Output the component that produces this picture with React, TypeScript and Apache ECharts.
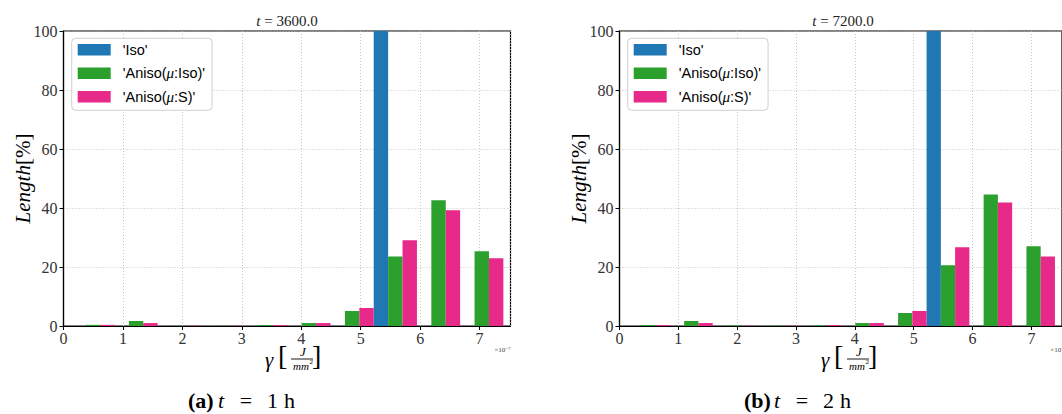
import React, { useEffect, useRef } from "react";
import * as echarts from "echarts";

// ---- data (x in units of 1e-7 J/mm^2, y in %) ----
const binEdges = [0.13, 0.857, 1.584, 2.311, 3.038, 3.765, 4.492, 5.219, 5.946, 6.673, 7.4];
const seriesNames = ["'Iso'", "'Aniso(μ:Iso)'", "'Aniso(μ:S)'"];
const isoA = [0, 0, 0, 0, 0, 0, 0, 100, 0, 0];
const anisoIsoA = [0.4, 1.7, 0.1, 0.1, 0.3, 1.0, 5.1, 23.6, 42.6, 25.3];
const anisoSA = [0.4, 1.0, 0.1, 0.1, 0.3, 1.0, 6.1, 29.1, 39.2, 23.0];
const isoB = [0, 0, 0, 0, 0, 0, 0, 100, 0, 0];
const anisoIsoB = [0.3, 1.7, 0.2, 0.1, 0.2, 1.0, 4.4, 20.6, 44.6, 27.0];
const anisoSB = [0.3, 1.0, 0.1, 0.1, 0.3, 1.0, 5.1, 26.7, 41.9, 23.6];
const panelTitles = ["3600.0", "7200.0"];
const captionTags = ["(a)", "(b)"];
const captionHours = ["1", "2"];
const xTicks = [0, 1, 2, 3, 4, 5, 6, 7];
const yTicks = [0, 20, 40, 60, 80, 100];

const colors = ["#1f77b4", "#2ca02c", "#e7298a"];
const SERIF = "'Liberation Serif', 'DejaVu Serif', serif";
const SANS = "'Liberation Sans', Arial, sans-serif";

const GRID_LEFT = [63.5, 619.5];
const GRID_TOP = 31;
const GRID_W = 447;
const GRID_H = 295;

function buildData(values: number[], k: number) {
  return values.map((v, i) => {
    const w = (binEdges[i + 1] - binEdges[i]) / 3;
    const x0 = binEdges[i] + k * w;
    return [x0, x0 + w, v];
  });
}

function renderBar(params: any, api: any) {
  const x0 = api.value(0);
  const x1 = api.value(1);
  const v = api.value(2);
  const p0 = api.coord([x0, v]);
  const p1 = api.coord([x1, 0]);
  return {
    type: "rect",
    shape: { x: p0[0], y: p0[1], width: p1[0] - p0[0], height: p1[1] - p0[1] },
    style: { fill: api.visual("color") },
  };
}

function txt(x: number, y: number, text: string, size: number, opts: any = {}) {
  return {
    type: "text",
    x,
    y,
    silent: true,
    style: {
      text,
      fontSize: size,
      fontFamily: SERIF,
      fill: "#000",
      align: "left",
      verticalAlign: "middle",
      ...opts,
    },
  };
}

function xLabelGraphics(L: number) {
  return [
    txt(L - 25, 360, "γ", 21, { fontStyle: "italic" }),
    txt(L - 12, 355, "[", 28),
    txt(L + 13, 351.5, "J", 13, { fontStyle: "italic", align: "center" }),
    {
      type: "line",
      silent: true,
      shape: { x1: L + 1, y1: 359, x2: L + 23, y2: 359 },
      style: { stroke: "#000", lineWidth: 0.9 },
    },
    txt(L + 11, 365.5, "mm", 11, { fontStyle: "italic", align: "center" }),
    txt(L + 19.5, 361.5, "2", 7),
    txt(L + 22, 355, "]", 28),
  ];
}

function captionGraphics(base: number, gi: number) {
  return [
    txt(base, 400, captionTags[gi], 22, { fontWeight: "bold" }),
    txt(base + 30, 400, "t", 22, { fontStyle: "italic" }),
    txt(base + 58, 400, "=", 22, { align: "center" }),
    txt(base + 79, 400, captionHours[gi], 22),
    txt(base + 96, 400, "h", 22),
  ];
}

export default function App() {
  const ref = useRef<HTMLDivElement>(null);

  useEffect(() => {
    if (!ref.current) return;
    const chart = echarts.init(ref.current, undefined, { renderer: "svg" });
    const panels = [
      [isoA, anisoIsoA, anisoSA],
      [isoB, anisoIsoB, anisoSB],
    ];

    const grids = GRID_LEFT.map((left) => ({
      left,
      top: GRID_TOP,
      width: GRID_W,
      height: GRID_H,
      show: true,
      borderColor: "#000",
      borderWidth: 1.2,
      backgroundColor: "transparent",
    }));

    const xAxes = GRID_LEFT.map((_, gi) => ({
      type: "value",
      gridIndex: gi,
      min: xTicks[0],
      max: 7.52,
      interval: xTicks[1] - xTicks[0],
      axisLine: { show: true, onZero: false, lineStyle: { color: "#000", width: 1.2 } },
      axisTick: { show: true, length: 4, lineStyle: { color: "#000", width: 1 } },
      axisLabel: {
        showMaxLabel: false,
        fontFamily: SERIF,
        fontSize: 16,
        color: "#333",
        margin: 4,
      },
      splitLine: { show: true, lineStyle: { type: [1, 2], color: "#b8b8b8", width: 0.8 } },
    }));

    const yAxes = GRID_LEFT.map((_, gi) => ({
      type: "value",
      gridIndex: gi,
      min: yTicks[0],
      max: yTicks[yTicks.length - 1],
      interval: yTicks[1] - yTicks[0],
      name: "{i|Length}[%]",
      nameLocation: "middle",
      nameRotate: 90,
      nameGap: 30,
      nameMoveOverlap: false,
      nameTextStyle: {
        fontFamily: SERIF,
        fontSize: 21,
        color: "#000",
        rich: { i: { fontFamily: SERIF, fontSize: 21, fontStyle: "italic", color: "#000" } },
      },
      axisLine: { show: true, lineStyle: { color: "#000", width: 1.2 } },
      axisTick: { show: true, length: 4, lineStyle: { color: "#000", width: 1 } },
      axisLabel: { fontFamily: SERIF, fontSize: 16, color: "#333", margin: 6 },
      splitLine: { show: true, lineStyle: { type: [1, 2], color: "#b8b8b8", width: 0.8 } },
    }));

    const series: any[] = [];
    panels.forEach((vals, gi) => {
      vals.forEach((v, k) => {
        series.push({
          type: "custom",
          name: seriesNames[k],
          xAxisIndex: gi,
          yAxisIndex: gi,
          data: buildData(v, k),
          encode: { x: [0, 1], y: 2 },
          renderItem: renderBar,
          itemStyle: { color: colors[k] },
          clip: true,
        });
      });
    });

    const legends = GRID_LEFT.map((left) => ({
      orient: "vertical",
      left: left + 8.2,
      top: 38.3,
      data: seriesNames.map((n) => ({ name: n, icon: "rect" })),
      itemWidth: 33,
      itemHeight: 11.5,
      itemGap: 8.5,
      padding: [4, 7, 6, 6],
      backgroundColor: "rgba(255,255,255,0.85)",
      borderColor: "#d0d0d0",
      borderWidth: 1,
      borderRadius: 4,
      selectedMode: false,
      formatter: (name: string) => name.replace("μ", "{m|μ}"),
      textStyle: {
        fontFamily: SANS,
        fontSize: 14.5,
        color: "#000",
        padding: [0, 0, 0, 7],
        rich: { m: { fontFamily: SERIF, fontStyle: "italic", fontSize: 15, color: "#000" } },
      },
    }));

    const graphics: any[] = [];
    GRID_LEFT.forEach((left, gi) => {
      const cx = left + GRID_W / 2;
      graphics.push({
        type: "text",
        x: cx,
        y: 21,
        silent: true,
        style: {
          text: `{i|t} = ${panelTitles[gi]}`,
          fontSize: 15,
          fontFamily: SERIF,
          fill: "#222",
          align: "center",
          verticalAlign: "middle",
          rich: { i: { fontStyle: "italic", fontFamily: SERIF, fontSize: 15, fill: "#222" } },
        },
      });
      graphics.push(...xLabelGraphics(cx + 3));
      graphics.push({
        type: "text",
        x: left + GRID_W,
        y: 350,
        silent: true,
        style: {
          text: "×10{s|−7}",
          fontSize: 7,
          fontFamily: SERIF,
          fill: "#444",
          align: "right",
          verticalAlign: "middle",
          rich: { s: { fontSize: 5, fontFamily: SERIF, fill: "#444", padding: [0, 0, 4, 0] } },
        },
      });
      graphics.push(...captionGraphics(left + 124.5, gi));
    });

    chart.setOption({
      animation: false,
      backgroundColor: "#fff",
      grid: grids,
      xAxis: xAxes,
      yAxis: yAxes,
      legend: legends,
      series,
      graphic: graphics,
    });

    return () => chart.dispose();
  }, []);

  return (
    <div
      ref={ref}
      style={{ position: "absolute", left: 0, top: 0, width: 1062, height: 414 }}
    />
  );
}
